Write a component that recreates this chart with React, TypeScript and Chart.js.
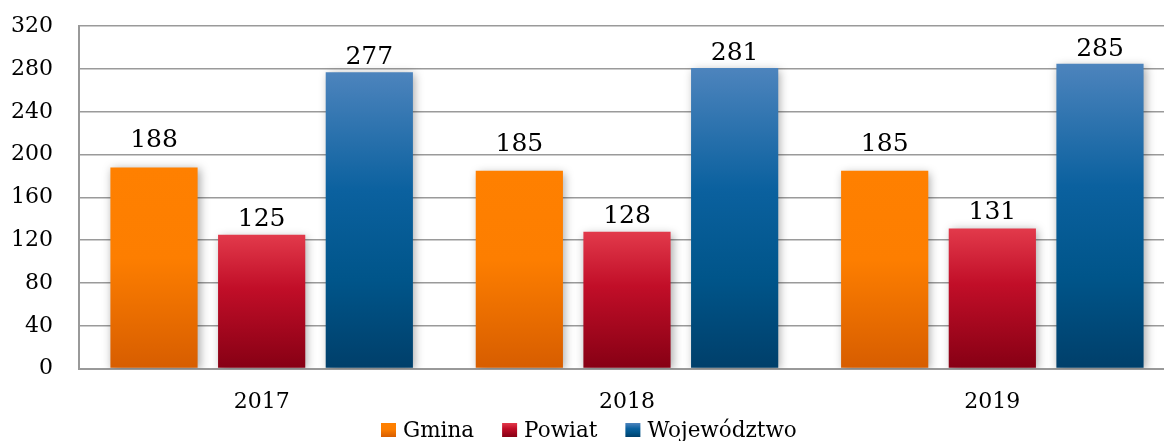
import React, { useEffect, useRef } from "react";
import { Chart, registerables } from "chart.js";

Chart.register(...registerables);

const categories = ["2017", "2018", "2019"];
const seriesNames = ["Gmina", "Powiat", "Województwo"];
const gminaValues = [188, 185, 185];
const powiatValues = [125, 128, 131];
const wojewodztwoValues = [277, 281, 285];
const yTicks = [0, 40, 80, 120, 160, 200, 240, 280, 320];

const FONT = "'DejaVu Serif', serif";
const labelGaps = [20, 9, 8];
const OFFSET_X = 15;
const OFFSET_Y = 13;

const gradientStops: [number, string][][] = [
  [
    [0, "#FF8000"],
    [0.45, "#FD7E00"],
    [1, "#D75D00"],
  ],
  [
    [0, "#E23A4B"],
    [0.4, "#C10E28"],
    [1, "#860014"],
  ],
  [
    [0, "#4D84BD"],
    [0.4, "#0B619F"],
    [0.7, "#00558A"],
    [1, "#003F6A"],
  ],
];

function makeGradient(c: CanvasRenderingContext2D, top: number, bottom: number, idx: number) {
  const g = c.createLinearGradient(0, top, 0, bottom);
  for (const [o, col] of gradientStops[idx]) g.addColorStop(o, col);
  return g;
}

const shadowPlugin = {
  id: "barShadow",
  beforeDatasetsDraw(chart: any) {
    const c = chart.ctx;
    c.save();
    c.shadowColor = "rgba(0,0,0,0.35)";
    c.shadowBlur = 9;
    c.shadowOffsetX = 2;
    c.shadowOffsetY = 2;
  },
  afterDatasetsDraw(chart: any) {
    chart.ctx.restore();
    const c = chart.ctx;
    c.save();
    c.fillStyle = "#000";
    c.font = `25px ${FONT}`;
    c.textAlign = "center";
    c.textBaseline = "alphabetic";
    chart.data.datasets.forEach((ds: any, i: number) => {
      const meta = chart.getDatasetMeta(i);
      meta.data.forEach((bar: any, j: number) => {
        c.fillText(String(ds.data[j]), bar.x, bar.y - labelGaps[i]);
      });
    });
    c.restore();
  },
};

const legendPlugin = {
  id: "customLegend",
  afterDraw(chart: any) {
    const c = chart.ctx;
    c.save();
    c.font = `21.5px ${FONT}`;
    c.textBaseline = "middle";
    c.textAlign = "left";
    const boxW = 15, boxH = 14, gapText = 7, gapItem = 28;
    let x = 381 + OFFSET_X;
    const cy = 430 + OFFSET_Y;
    seriesNames.forEach((n, i) => {
      c.fillStyle = makeGradient(c, cy - boxH / 2, cy + boxH / 2, i);
      c.fillRect(x, cy - boxH / 2, boxW, boxH);
      c.fillStyle = "#000";
      c.fillText(n, x + boxW + gapText, cy + 1);
      x += boxW + gapText + c.measureText(n).width + gapItem;
    });
    c.restore();
  },
};

export default function App() {
  const ref = useRef<HTMLCanvasElement>(null);
  useEffect(() => {
    if (!ref.current) return;
    const bg = (idx: number) => (ctx: any) => {
      const chart = ctx.chart;
      const { chartArea, scales } = chart;
      if (!chartArea || !scales.y || ctx.type !== "data") return gradientStops[idx][1][1];
      const top = scales.y.getPixelForValue(ctx.raw);
      const bottom = scales.y.getPixelForValue(0);
      return makeGradient(chart.ctx, top, bottom, idx);
    };
    const all = [gminaValues, powiatValues, wojewodztwoValues];
    const chart = new Chart(ref.current, {
      type: "bar",
      data: {
        labels: categories,
        datasets: all.map((d, i) => ({
          label: seriesNames[i],
          data: d,
          backgroundColor: bg(i),
          borderWidth: 0,
          categoryPercentage: 0.884,
          barPercentage: 0.81,
        })),
      },
      options: {
        animation: false,
        responsive: false,
        layout: { padding: { left: 0, right: 10, top: 14, bottom: 6 } },
        plugins: {
          legend: { display: false },
          tooltip: { enabled: false },
        },
        scales: {
          x: {
            grid: { display: false, drawTicks: false },
            border: { display: true, color: "#999", width: 2 },
            ticks: { color: "#000", font: { family: FONT, size: 22 }, padding: 20 },
          },
          y: {
            min: 0,
            max: 320,
            afterBuildTicks: (axis: any) => {
              axis.ticks = yTicks.map((v) => ({ value: v }));
            },
            grid: { color: "#9a9a9a", lineWidth: 1.5, drawTicks: false },
            border: { display: true, color: "#999", width: 2 },
            ticks: { color: "#000", font: { family: FONT, size: 22 }, padding: 26 },
          },
        },
      },
      plugins: [shadowPlugin, legendPlugin],
    });
    return () => chart.destroy();
  }, []);
  return (
    <div style={{ position: "absolute", left: 0, top: 0, width: 1164, height: 441, overflow: "hidden", background: "#fff" }}>
      <canvas
        ref={ref}
        width={1200}
        height={441 + OFFSET_Y}
        style={{ display: "block", marginLeft: -OFFSET_X, marginTop: -OFFSET_Y }}
      />
    </div>
  );
}
